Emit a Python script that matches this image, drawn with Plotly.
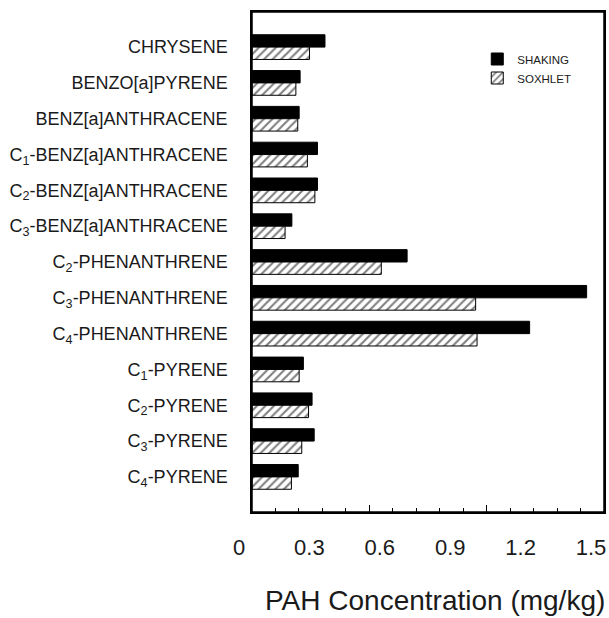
import plotly.graph_objects as go

categories = [
    "CHRYSENE",
    "BENZO[a]PYRENE",
    "BENZ[a]ANTHRACENE",
    "C<sub>1</sub>-BENZ[a]ANTHRACENE",
    "C<sub>2</sub>-BENZ[a]ANTHRACENE",
    "C<sub>3</sub>-BENZ[a]ANTHRACENE",
    "C<sub>2</sub>-PHENANTHRENE",
    "C<sub>3</sub>-PHENANTHRENE",
    "C<sub>4</sub>-PHENANTHRENE",
    "C<sub>1</sub>-PYRENE",
    "C<sub>2</sub>-PYRENE",
    "C<sub>3</sub>-PYRENE",
    "C<sub>4</sub>-PYRENE",
]
shaking = [0.311, 0.205, 0.201, 0.279, 0.279, 0.170, 0.661, 1.426, 1.183, 0.219, 0.256, 0.265, 0.197]
soxhlet = [0.245, 0.187, 0.195, 0.236, 0.268, 0.141, 0.551, 0.953, 0.959, 0.201, 0.241, 0.212, 0.168]
x_tick_vals = [0, 0.3, 0.6, 0.9, 1.2, 1.5]
x_tick_text = ["0", "0.3", "0.6", "0.9", "1.2", "1.5"]
x_title = "PAH Concentration (mg/kg)"

FONT = "Liberation Sans, Arial, sans-serif"
TXT = "#1a1a1a"

fig = go.Figure()
fig.add_trace(go.Bar(
    y=categories, x=shaking, orientation="h", name="SHAKING",
    marker=dict(color="black", line=dict(color="black", width=1)),
))
fig.add_trace(go.Bar(
    y=categories, x=soxhlet, orientation="h", name="SOXHLET",
    marker=dict(color="white", line=dict(color="black", width=1),
                pattern=dict(shape="/", fgcolor="black", bgcolor="white", size=6, solidity=0.35)),
))
# invisible trace to anchor the label axis
fig.add_trace(go.Scatter(x=[0, 1.5], y=[categories[0], categories[0]], xaxis="x2",
                         mode="markers", marker=dict(opacity=0), showlegend=False, hoverinfo="skip"))

fig.update_layout(
    width=609, height=618,
    margin=dict(l=252, r=5, t=12, b=106, autoexpand=False),
    paper_bgcolor="white", plot_bgcolor="white",
    barmode="group", bargap=0.31, bargroupgap=0,
    font=dict(family=FONT, color=TXT),
    showlegend=True,
    legend=dict(x=0.64, y=0.935, xanchor="left", yanchor="top",
                font=dict(size=11.5, family=FONT, color=TXT),
                bgcolor="rgba(0,0,0,0)", tracegroupgap=0),
    xaxis=dict(
        range=[0, 1.5], showline=True, linecolor="black", linewidth=1.5, mirror=True,
        showgrid=False, zeroline=False, automargin=False,
        tickvals=[0.5, 1.0], ticks="inside", ticklen=7, tickcolor="black", showticklabels=False,
        minor=dict(dtick=0.1, tick0=0, ticks="inside", ticklen=4, tickcolor="black", showgrid=False),
    ),
    xaxis2=dict(
        range=[0, 1.5], overlaying="x", side="bottom", anchor="y", automargin=False,
        tickvals=x_tick_vals, ticktext=x_tick_text, ticks="", showgrid=False, zeroline=False,
        showline=False, tickfont=dict(size=22, family=FONT, color=TXT),
        ticklabelstandoff=20, ticklabelshift=-13, ticklabeloverflow="allow",
    ),
    yaxis=dict(
        type="category", categoryorder="array", categoryarray=categories,
        range=[12.98, -0.98], showline=True, linecolor="black", linewidth=1.5, mirror=True,
        showgrid=False, zeroline=False, ticks="", ticklabelstandoff=19, automargin=False,
        tickfont=dict(size=18, family=FONT, color=TXT),
    ),
    shapes=[dict(type="rect", xref="x domain", yref="y domain", x0=0, x1=1, y0=0, y1=1,
                 line=dict(color="black", width=1.5), fillcolor="rgba(0,0,0,0)", layer="above")],
    annotations=[dict(text=x_title, xref="paper", yref="paper", x=0.52, y=-0.176,
                      xanchor="center", yanchor="middle", showarrow=False,
                      font=dict(size=28, family=FONT, color=TXT))],
)

fig.write_html(
    "out.html",
    config={"displayModeBar": False},
    post_script="document.body.style.margin='0px';document.body.style.overflow='hidden';"
                "document.documentElement.style.overflow='hidden';",
)
